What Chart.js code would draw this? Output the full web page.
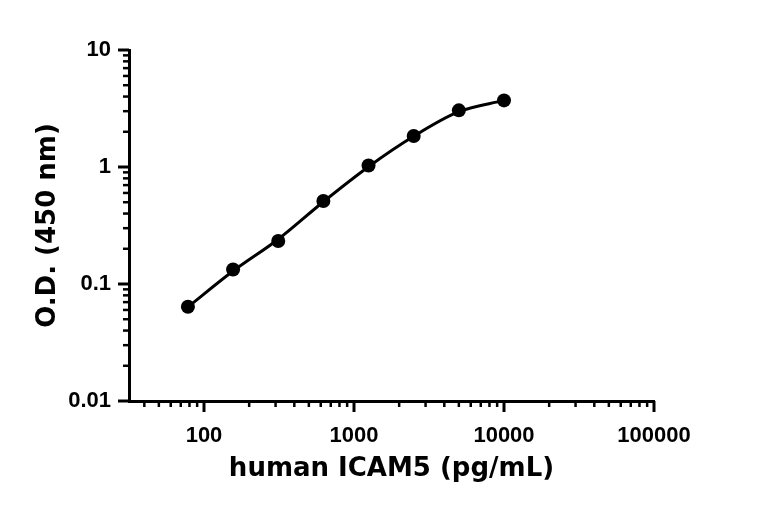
<!DOCTYPE html>
<html>
<head>
<meta charset="utf-8">
<script src="https://cdn.jsdelivr.net/npm/chart.js@4"></script>
<style>
  html, body { margin: 0; padding: 0; background: #fff; }
  #wrap { width: 768px; height: 508px; }
</style>
</head>
<body>
<div id="wrap"><canvas id="curve" width="768" height="508"></canvas></div>
<script>
// ICAM5 standard curve: measured points + fitted line
const concentration = [78.125, 156.25, 312.5, 625, 1250, 2500, 5000, 10000];
const od = [0.064, 0.133, 0.233, 0.512, 1.03, 1.84, 3.05, 3.71];
// fitted curve at the same concentrations
const fitOd = [0.0636, 0.129, 0.2415, 0.505, 1.006, 1.83, 2.97, 3.71];

const xRange = [31.62, 100000];
const yRange = [0.01, 10];
const xMajorTicks = [100, 1000, 10000, 100000];
const yMajorTicks = [0.01, 0.1, 1, 10];
const minorSteps = [2, 3, 4, 5, 6, 7, 8, 9];

function buildTicks(majors, lo, hi) {
  const out = [];
  const decades = [majors[0] / 10].concat(majors);
  decades.forEach(d => {
    if (d >= lo && d <= hi) out.push({ value: d, major: true });
    minorSteps.forEach(m => {
      const v = +(d * m).toPrecision(6);
      if (v >= lo && v <= hi && v < majors[majors.length - 1]) out.push({ value: v, major: false });
    });
  });
  return out.filter(t => !(t.major && !majors.includes(t.value)));
}

const tickMarks = {
  id: 'tickMarks',
  afterDraw(chart) {
    const ctx = chart.ctx;
    const x = chart.scales.x, y = chart.scales.y;
    ctx.save();
    ctx.strokeStyle = '#000';
    x.ticks.forEach(t => {
      const px = x.getPixelForValue(t.value);
      ctx.lineWidth = t.major ? 3 : 2.5;
      ctx.beginPath();
      ctx.moveTo(px, x.top);
      ctx.lineTo(px, x.top + (t.major ? 11 : 6));
      ctx.stroke();
    });
    y.ticks.forEach(t => {
      const py = y.getPixelForValue(t.value);
      ctx.lineWidth = t.major ? 3 : 2.5;
      ctx.beginPath();
      ctx.moveTo(y.right, py);
      ctx.lineTo(y.right - (t.major ? 11 : 6), py);
      ctx.stroke();
    });
    ctx.restore();
  }
};

const tickFont = { family: "'Liberation Sans', Arial, sans-serif", size: 22, weight: 'bold' };
const titleFont = { family: "'DejaVu Sans', sans-serif", size: 26, weight: 'bold' };

new Chart(document.getElementById('curve'), {
  type: 'scatter',
  data: {
    datasets: [{
      data: concentration.map((c, i) => ({ x: c, y: fitOd[i] })),
      showLine: true,
      borderColor: '#000',
      borderWidth: 3,
      pointRadius: 0,
      cubicInterpolationMode: 'monotone'
    }, {
      data: concentration.map((c, i) => ({ x: c, y: od[i] })),
      showLine: false,
      backgroundColor: '#000',
      pointRadius: 7,
      pointBackgroundColor: '#000',
      pointBorderWidth: 0
    }]
  },
  plugins: [tickMarks],
  options: {
    responsive: false,
    animation: false,
    layout: { padding: { left: 0, right: 114, top: 50, bottom: 0 } },
    plugins: { legend: { display: false }, tooltip: { enabled: false } },
    scales: {
      x: {
        type: 'logarithmic',
        min: xRange[0],
        max: xRange[1],
        afterBuildTicks: s => {
          s.min = xRange[0];
          s.max = xRange[1];
          s.ticks = buildTicks(xMajorTicks, xRange[0], xRange[1]);
        },
        afterFit: s => { s.height = 107; },
        grid: { display: false, drawTicks: true, tickLength: 11 },
        border: { display: true, color: '#000', width: 3 },
        ticks: {
          autoSkip: false,
          maxRotation: 0,
          padding: 11,
          color: '#000',
          font: tickFont,
          callback: v => xMajorTicks.includes(v) ? String(v) : ''
        },
        title: {
          display: true,
          text: 'human ICAM5 (pg/mL)',
          color: '#000',
          font: titleFont,
          padding: { top: 0, bottom: 23 }
        }
      },
      y: {
        type: 'logarithmic',
        min: yRange[0],
        max: yRange[1],
        afterBuildTicks: s => {
          s.min = yRange[0];
          s.max = yRange[1];
          s.ticks = buildTicks(yMajorTicks, yRange[0], yRange[1]);
        },
        afterFit: s => { s.width = 129; },
        grid: { display: false, drawTicks: true, tickLength: 11 },
        border: { display: true, color: '#000', width: 3 },
        ticks: {
          autoSkip: false,
          padding: 7,
          color: '#000',
          font: tickFont,
          callback: v => yMajorTicks.includes(v) ? String(v) : ''
        },
        title: {
          display: true,
          text: 'O.D. (450 nm)',
          color: '#000',
          font: titleFont,
          padding: { top: 33, bottom: 0 }
        }
      }
    }
  }
});
</script>
</body>
</html>
